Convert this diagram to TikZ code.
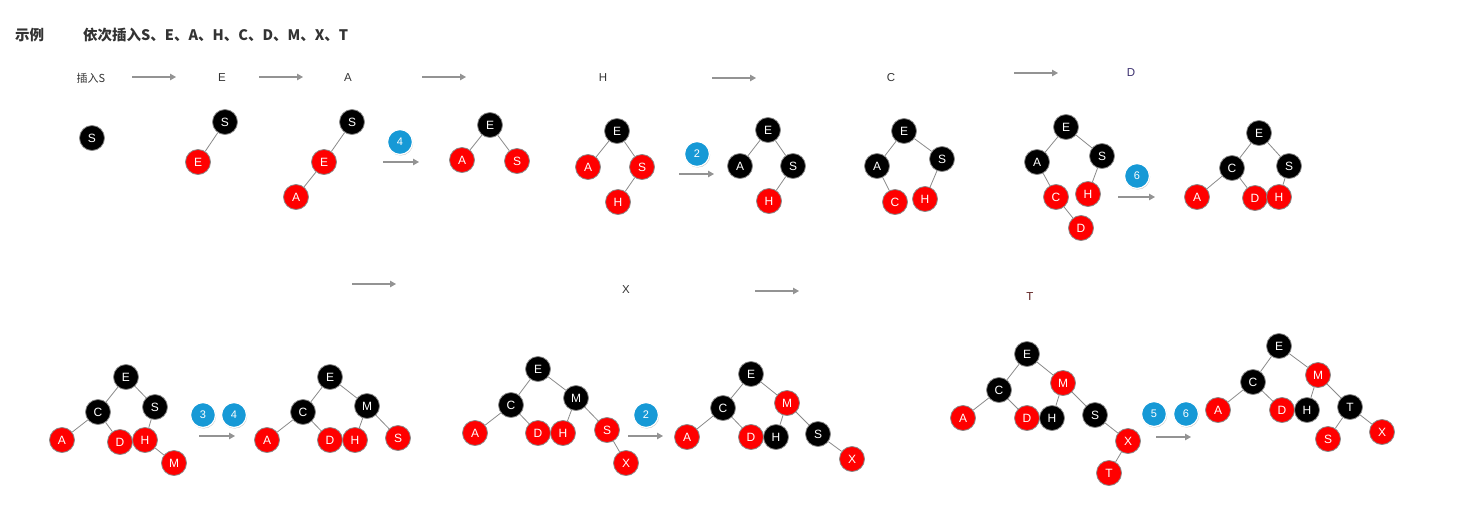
\documentclass[tikz,border=0pt]{standalone}
\usepackage{fontspec}
\setmainfont{Liberation Sans}
\newfontfamily\cjk{Noto Sans CJK SC}
\usetikzlibrary{arrows.meta,shadows}
\definecolor{nodered}{HTML}{FF0000}
\definecolor{nodeblk}{HTML}{000000}
\definecolor{rim}{HTML}{8A8A8A}
\definecolor{badgeblue}{HTML}{1699D6}
\definecolor{txt}{HTML}{333333}
\definecolor{dlab}{HTML}{3A2E6E}
\definecolor{tlab}{HTML}{5A1A1A}
\tikzset{
  rb/.style={circle,fill=nodeblk,draw=rim,line width=0.8pt,minimum size=25pt,inner sep=0pt,text=white,font=\fontsize{12}{13}\selectfont},
  rr/.style={rb,fill=nodered},
  edge/.style={draw=rim,line width=0.8pt},
  badge/.style={circle,fill=badgeblue,draw=white,line width=1.3pt,minimum size=25pt,inner sep=0pt,text=white,font=\fontsize{11}{12}\selectfont,drop shadow={shadow xshift=0.6pt,shadow yshift=-1pt,opacity=0.45}},
  flow/.style={draw=gray!85,line width=1.1pt,-{Triangle[length=6pt,width=6.5pt]}},
  lab/.style={text=txt,font=\fontsize{11.5}{12}\selectfont,inner sep=0pt},
}
\begin{document}
\begin{tikzpicture}[x=1pt,y=-1pt]
\useasboundingbox (0,0) rectangle (1468,515);
\fill[white] (0,0) rectangle (1468,515);
% titles
\node[text=txt,font=\cjk\bfseries\fontsize{14.5}{16}\selectfont,anchor=west,inner sep=0pt] (title1) at (15,35) {示例};
\node[text=txt,font=\cjk\bfseries\fontsize{14.5}{16}\selectfont,anchor=west,inner sep=0pt] (title2) at (83,35) {依次插入S、E、A、H、C、D、M、X、T};
% step labels
\node[lab,font=\cjk\fontsize{11}{12}\selectfont] (lS) at (91,78) {插入S};
\node[lab] (lE) at (222,78) {E};
\node[lab] (lA) at (348,78) {A};
\node[lab] (lH) at (603,78) {H};
\node[lab] (lC) at (891,78) {C};
\node[lab,text=dlab] (lD) at (1131,73) {D};
\node[lab] (lX) at (626,290) {X};
\node[lab,text=tlab] (lT) at (1030,297) {T};
% flow arrows
\coordinate (a1s) at (132,77); \coordinate (a1e) at (176,77);
\coordinate (a2s) at (259,77); \coordinate (a2e) at (303,77);
\coordinate (a3s) at (422,77); \coordinate (a3e) at (466,77);
\coordinate (a4s) at (712,78); \coordinate (a4e) at (756,78);
\coordinate (a5s) at (1014,73); \coordinate (a5e) at (1058,73);
\coordinate (a6s) at (352,284); \coordinate (a6e) at (396,284);
\coordinate (a7s) at (755,291); \coordinate (a7e) at (799,291);
\coordinate (b1s) at (383,162); \coordinate (b1e) at (419,162);
\coordinate (b2s) at (679,174); \coordinate (b2e) at (714,174);
\coordinate (b3s) at (1118,197); \coordinate (b3e) at (1155,197);
\coordinate (b4s) at (199,436); \coordinate (b4e) at (235,436);
\coordinate (b5s) at (628,436); \coordinate (b5e) at (663,436);
\coordinate (b6s) at (1156,437); \coordinate (b6e) at (1191,437);
\foreach \p in {a1,a2,a3,a4,a5,a6,a7,b1,b2,b3,b4,b5,b6} \draw[flow] (\p s) -- (\p e);
% badges
\node[badge] (g1) at (400,142) {4};
\node[badge] (g2) at (697,154) {2};
\node[badge] (g3) at (1137,176) {6};
\node[badge] (g4) at (203,415) {3};
\node[badge] (g5) at (234,415) {4};
\node[badge] (g6) at (646,415) {2};
\node[badge] (g7) at (1154,414) {5};
\node[badge] (g8) at (1186,414) {6};
% tree 1
\node[rb] (t1S) at (92,138) {S};
% tree 2
\node[rb] (t2S) at (225,122) {S};
\node[rr] (t2E) at (198,162) {E};
\draw[edge] (t2S) -- (t2E);
% tree 3
\node[rb] (t3S) at (352,122) {S};
\node[rr] (t3E) at (324,162) {E};
\node[rr] (t3A) at (296,197) {A};
\draw[edge] (t3S) -- (t3E) (t3E) -- (t3A);
% tree 4
\node[rb] (t4E) at (490,125) {E};
\node[rr] (t4A) at (462,160) {A};
\node[rr] (t4S) at (517,161) {S};
\draw[edge] (t4E) -- (t4A) (t4E) -- (t4S);
% tree 5
\node[rb] (t5E) at (617,131) {E};
\node[rr] (t5A) at (588,167) {A};
\node[rr] (t5S) at (642,167) {S};
\node[rr] (t5H) at (618,202) {H};
\draw[edge] (t5E) -- (t5A) (t5E) -- (t5S) (t5S) -- (t5H);
% tree 6
\node[rb] (t6E) at (768,130) {E};
\node[rb] (t6A) at (740,166) {A};
\node[rb] (t6S) at (793,166) {S};
\node[rr] (t6H) at (769,201) {H};
\draw[edge] (t6E) -- (t6A) (t6E) -- (t6S) (t6S) -- (t6H);
% tree 7
\node[rb] (t7E) at (904,131) {E};
\node[rb] (t7A) at (877,166) {A};
\node[rb] (t7S) at (942,159) {S};
\node[rr] (t7C) at (895,202) {C};
\node[rr] (t7H) at (925,199) {H};
\draw[edge] (t7E) -- (t7A) (t7E) -- (t7S) (t7A) -- (t7C) (t7S) -- (t7H);
% tree 8
\node[rb] (t8E) at (1066,127) {E};
\node[rb] (t8A) at (1037,162) {A};
\node[rb] (t8S) at (1102,156) {S};
\node[rr] (t8C) at (1056,197) {C};
\node[rr] (t8H) at (1088,194) {H};
\node[rr] (t8D) at (1081,228) {D};
\draw[edge] (t8E) -- (t8A) (t8E) -- (t8S) (t8A) -- (t8C) (t8S) -- (t8H) (t8C) -- (t8D);
% tree 9
\node[rb] (t9E) at (1259,133) {E};
\node[rb] (t9C) at (1232,168) {C};
\node[rb] (t9S) at (1289,166) {S};
\node[rr] (t9A) at (1197,197) {A};
\node[rr] (t9D) at (1255,198) {D};
\node[rr] (t9H) at (1279,197) {H};
\draw[edge] (t9E) -- (t9C) (t9E) -- (t9S) (t9C) -- (t9A) (t9C) -- (t9D) (t9S) -- (t9H);
% tree 10
\node[rb] (u1E) at (126,377) {E};
\node[rb] (u1C) at (98,412) {C};
\node[rb] (u1S) at (155,407) {S};
\node[rr] (u1A) at (62,440) {A};
\node[rr] (u1D) at (120,442) {D};
\node[rr] (u1H) at (145,440) {H};
\node[rr] (u1M) at (174,463) {M};
\draw[edge] (u1E) -- (u1C) (u1E) -- (u1S) (u1C) -- (u1A) (u1C) -- (u1D) (u1S) -- (u1H) (u1H) -- (u1M);
% tree 11
\node[rb] (u2E) at (330,377) {E};
\node[rb] (u2C) at (303,412) {C};
\node[rb] (u2M) at (367,406) {M};
\node[rr] (u2A) at (267,440) {A};
\node[rr] (u2D) at (330,440) {D};
\node[rr] (u2H) at (355,440) {H};
\node[rr] (u2S) at (398,438) {S};
\draw[edge] (u2E) -- (u2C) (u2E) -- (u2M) (u2C) -- (u2A) (u2C) -- (u2D) (u2M) -- (u2H) (u2M) -- (u2S);
% tree 12
\node[rb] (u3E) at (538,369) {E};
\node[rb] (u3C) at (511,405) {C};
\node[rb] (u3M) at (576,398) {M};
\node[rr] (u3A) at (475,433) {A};
\node[rr] (u3D) at (538,433) {D};
\node[rr] (u3H) at (563,433) {H};
\node[rr] (u3S) at (607,430) {S};
\node[rr] (u3X) at (626,463) {X};
\draw[edge] (u3E) -- (u3C) (u3E) -- (u3M) (u3C) -- (u3A) (u3C) -- (u3D) (u3M) -- (u3H) (u3M) -- (u3S) (u3S) -- (u3X);
% tree 13
\node[rb] (u4E) at (751,374) {E};
\node[rb] (u4C) at (723,408) {C};
\node[rr] (u4M) at (787,403) {M};
\node[rr] (u4A) at (687,437) {A};
\node[rr] (u4D) at (751,437) {D};
\node[rb] (u4H) at (776,437) {H};
\node[rb] (u4S) at (818,434) {S};
\node[rr] (u4X) at (852,459) {X};
\draw[edge] (u4E) -- (u4C) (u4E) -- (u4M) (u4C) -- (u4A) (u4C) -- (u4D) (u4M) -- (u4H) (u4M) -- (u4S) (u4S) -- (u4X);
% tree 14
\node[rb] (u5E) at (1027,354) {E};
\node[rb] (u5C) at (999,390) {C};
\node[rr] (u5M) at (1063,383) {M};
\node[rr] (u5A) at (963,418) {A};
\node[rr] (u5D) at (1027,418) {D};
\node[rb] (u5H) at (1052,418) {H};
\node[rb] (u5S) at (1095,415) {S};
\node[rr] (u5X) at (1128,441) {X};
\node[rr] (u5T) at (1109,473) {T};
\draw[edge] (u5E) -- (u5C) (u5E) -- (u5M) (u5C) -- (u5A) (u5C) -- (u5D) (u5M) -- (u5H) (u5M) -- (u5S) (u5S) -- (u5X) (u5X) -- (u5T);
% tree 15
\node[rb] (u6E) at (1279,346) {E};
\node[rb] (u6C) at (1253,382) {C};
\node[rr] (u6M) at (1318,375) {M};
\node[rr] (u6A) at (1218,410) {A};
\node[rr] (u6D) at (1282,410) {D};
\node[rb] (u6H) at (1307,410) {H};
\node[rb] (u6T) at (1350,407) {T};
\node[rr] (u6S) at (1328,439) {S};
\node[rr] (u6X) at (1382,432) {X};
\draw[edge] (u6E) -- (u6C) (u6E) -- (u6M) (u6C) -- (u6A) (u6C) -- (u6D) (u6M) -- (u6H) (u6M) -- (u6T) (u6T) -- (u6S) (u6T) -- (u6X);
\end{tikzpicture}
\end{document}
